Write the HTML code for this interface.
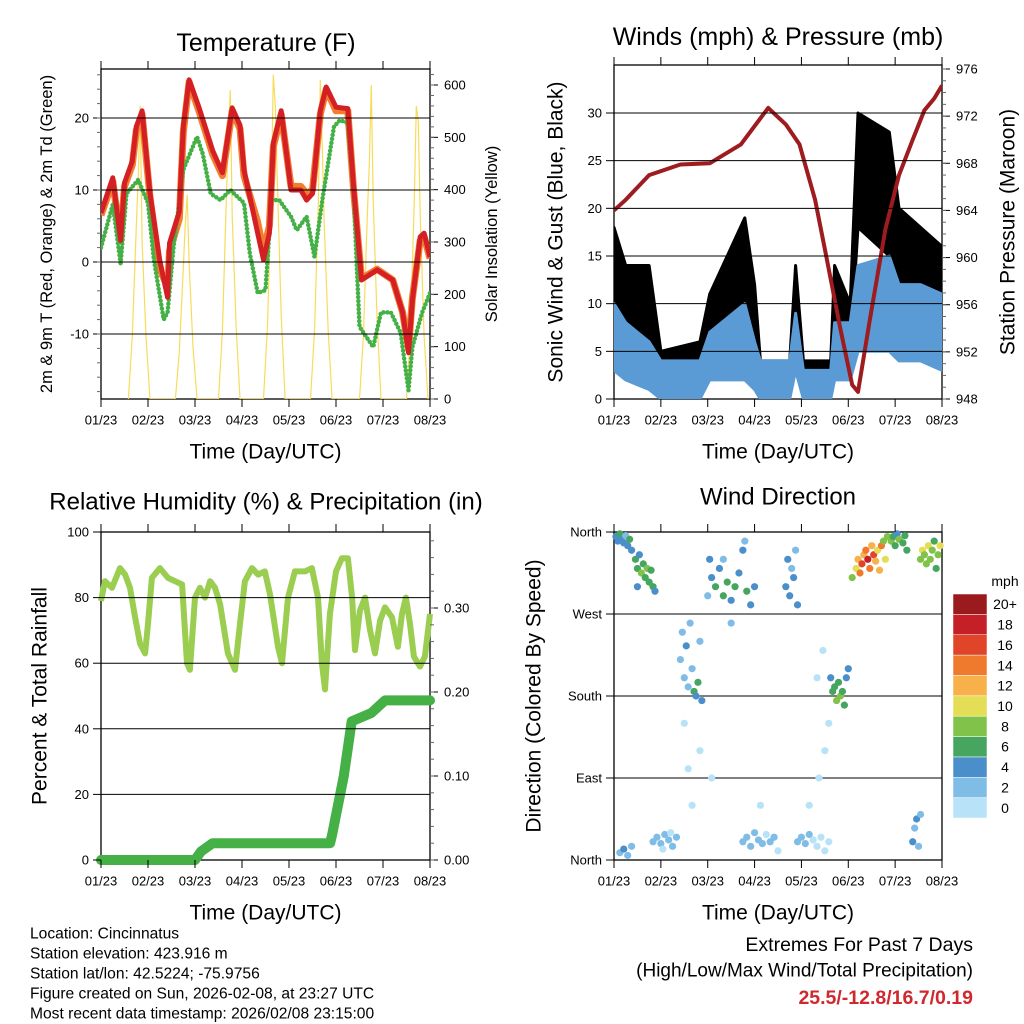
<!DOCTYPE html>
<html><head><meta charset="utf-8">
<style>
html,body{margin:0;padding:0;background:#fff;}
svg{display:block;font-family:"Liberation Sans",Arial,sans-serif;}
</style></head>
<body>
<svg id="chart" width="1024" height="1024" viewBox="0 0 1024 1024"></svg>
<script>
// ---------- data ----------
const tempHours=[0,6,10,12,16,18,21,25,30,34,35,40,42,45,50,57,62,67,71,73,80,83,86,88,92,97,102,105,108,112,115,120,126,129,133,141,149,154,157,159,163,165,168];
const tempValues=[6.8,11.7,3,11,14,18.8,21,9.5,0.2,-4.9,2.6,7,18.8,25.3,21.5,15.5,12.4,21.4,19,12.8,4,0.3,4,16.5,21,10,10,8.6,9.5,21,24.3,21.5,21.3,10.4,-2.5,-1.1,-2.5,-7,-12.6,-5.3,3.5,4,0.7];
const t9Values=[6.5,11.2,3,10.5,13.5,18.3,20.5,9,-1,-3.5,1.5,6,18,25,21,15,12,21,18.5,12,5.5,1.5,5,16,20.5,10.5,10.5,9.5,10,20.5,24,21,21,10,-2.3,-1,-2.5,-7,-12,-5,3,3.5,0.5];
const dewHours=[0,6,10,13,19,24,27,32,34,37,42,49,52,56,61,66,73,76,80,84,87,91,97,100,105,109,113,119,122,126,129,132,139,143,148,153,157,159,164,168];
const dewValues=[2,8,-0.2,9.5,11.4,8.2,0.3,-8,-7,2,12.8,17.4,15,9.5,8.6,10,8.2,1.2,-4.3,-3.9,8.6,8.6,6.3,4.4,6.3,0.7,8.6,18.8,19.7,19.3,9.5,-9,-11.8,-7,-7,-9.8,-17.8,-11.8,-7,-4.3];
const solarHours=[14,16,18,19,20,21,23,25, 38,40,42,43,44,45,47,49, 60,62,64,65,66,67,69,71, 83,85,87,88,89,90,92,94, 107,109,111,112,113,114,116,118, 132,134,136,137,138,139,141,143, 156,158,160,161,162,163,165,167];
const solarValues=[0,120,330,420,560,300,120,0, 0,90,250,330,390,260,100,0, 0,130,380,500,590,350,140,0, 0,140,400,620,560,420,160,0, 0,130,380,610,480,330,130,0, 0,120,350,450,600,380,150,0, 0,130,380,560,530,350,120,0];

const windHours=[0,6,18,24,44,49,67,72,75,90,93,97,111,113,121,125,141,146,157,168];
const windLow=[3,2,1,0,0,2,2,1,0,0,3,0,0,2,2,5,5,4,4,3];
const windHigh=[10,8,6,4,4,7,10,6,4,4,9,3,3,8,8,14,15,12,12,11];
const gustLow=[8,6,5,3,3,5,8,4,3,3,6,2,2,5,5,18,15,10,8,8];
const gustHigh=[18,14,14,5,6,11,19,12,4,4,14,4,4,14,10,30,28,20,18,16];
const presHours=[0,6,18,34,49,65,79,88,95,103,108,116,122,125,131,139,146,153,159,164,168];
const presValues=[964,964.9,967,967.9,968,969.6,972.7,971.3,969.6,964.9,960.7,953.9,949.2,948.6,954.7,962.4,967,970,972.5,973.5,974.6];

const rhHours=[0,2,5.6,9.7,12.3,14.8,17.4,19.9,22.5,24,26,30.1,34.2,37.8,41.4,43.9,45.4,48,50.5,53.1,55.7,58.2,60.8,64.8,68.4,71,73.5,77.1,80.2,83.7,86.3,90.4,92.4,95.5,99,104.2,107.7,110.8,112.8,114.4,116.9,120,123,126.1,128.2,129.7,132.2,134.8,137.4,139.9,142.5,145,148.6,151.6,153.7,155.7,157.8,159.8,162.9,165.4,168];
const rhValues=[79,85,83,89,87,83,74,66,63,72,86,89,86,85,84,60,58,80,83,80,85,83,78,63,58,72,85,89,87,88,81,65,60,80,88,88,89,80,60,52,75,88,92,92,80,64,76,80,70,63,73,77,74,65,75,80,72,62,59,62,75];
const precipHours=[0,48,51,57,117,118,124,128,133,138,145,168];
const precipValues=[0,0,0.01,0.02,0.02,0.03,0.10,0.165,0.17,0.175,0.19,0.19];

const dirHours=[1,2,3,4,5,6,7,8,9,3,5,7,9, 11,12,13,14,15,16,17,18,19,20,21,12, 20,22,24,26,28,30,32,25,29, 34,35,36,37,38,39,40,41,42,43,44,45,36,38,40,44, 48,49,50,52,54,56,58,60,62,64,66,67,68,70,72,56,60,50, 66,68,70,72,74,76,78,80,82,75,84, 88,89,90,91,92,93,94, 94,96,98,100,102,104,106,108,110,100,105,108,110,104,107, 111,112,113,114,115,116,117,118,119,120, 122,124,125,126,127,128,129,130,131,132,133,134,135,136,137,138,139,140, 142,143,144,145,146,148,149,150, 153,154,155,156,157,157,158,159,160,161,162,163,164,165,166,167];
const dirDegrees=[355,350,358,352,348,356,345,352,340,8,12,5,15, 330,320,335,315,325,310,320,305,318,300,295,300, 20,25,18,28,22,15,25,12,30, 220,250,200,235,190,260,210,185,180,195,240,175,150,100,60,120, 290,330,310,300,320,290,305,285,300,315,340,350,295,280,300,330,260,90, 20,25,15,30,22,18,28,20,25,60,10, 300,330,290,320,310,340,280, 20,25,18,28,22,15,25,10,20,60,90,120,150,200,230, 200,185,190,175,195,180,185,170,200,210, 310,320,330,315,325,335,340,330,320,345,335,328,340,318,345,350,330,355, 350,355,345,358,352,348,356,340, 20,35,45,15,50,330,340,335,325,345,330,340,350,320,335,345];
const dirSpeeds=[5,4,6,5,4,3,5,6,4,3,4,2,3, 6,7,5,8,6,7,8,6,7,6,5,4, 2,2,2,2,3,2,2,1,1, 2,3,2,4,3,2,3,6,5,6,3,4,1,1,1,1, 3,4,5,6,4,7,6,4,7,5,4,3,6,5,4,2,3,1, 2,2,2,2,2,2,1,2,2,1,1, 4,4,5,3,4,3,4, 2,2,2,2,1,1,1,0,1,0,1,0,1,1,0, 4,6,7,8,6,8,7,6,5,4, 8,10,12,14,16,12,14,18,15,12,16,13,10,12,14,9,11,8, 8,6,7,5,8,6,7,6, 4,3,4,3,2,8,10,9,8,10,9,8,7,6,9,10];
const speedColors=["#b8e2f8","#80bde6","#4a8fca","#46a660","#80c24a","#e3de55","#f7b04a","#ef7a2e","#e0452a","#c51f28","#9b1a1e"];
const speedLabels=["0","2","4","6","8","10","12","14","16","18","20+"];
const dayLabels=["01/23","02/23","03/23","04/23","05/23","06/23","07/23","08/23"];

// ---------- helpers ----------
const NS="http://www.w3.org/2000/svg";
const svg=document.getElementById("chart");
function mk(parent,tag,attrs){const e=document.createElementNS(NS,tag);for(const k in attrs)e.setAttribute(k,attrs[k]);parent.appendChild(e);return e;}
function txt(parent,x,y,s,size,anchor,extra){const e=mk(parent,"text",Object.assign({x:x,y:y,"font-size":size,"text-anchor":anchor||"middle","dominant-baseline":"central",fill:"#000"},extra||{}));e.textContent=s;return e;}
function lin(d0,d1,r0,r1){return v=>r0+(v-d0)*(r1-r0)/(d1-d0);}
function pathFrom(xs,ys,fx,fy){return xs.map((t,i)=>(i?"L":"M")+fx(t).toFixed(1)+","+fy(ys[i]).toFixed(1)).join("");}

const P1={x0:101,x1:430,y0:69,y1:399},P2={x0:614,x1:942,y0:65,y1:399},P3={x0:101,x1:430,y0:532,y1:860},P4={x0:614,x1:942,y0:532,y1:860};

function frame(P,name){
  const g=mk(svg,"g",{});
  
  
  const r=mk(g,"rect",{x:P.x0,y:P.y0,width:P.x1-P.x0,height:P.y1-P.y0,fill:"none",stroke:"#000","stroke-width":1.3});
  
  
  return g;
}
function xAxis(g,P,name){
  const fx=lin(0,7,P.x0,P.x1);
  for(let d=0;d<=7;d++){
    const x=fx(d);
    const t=mk(g,"line",{x1:x,x2:x,y1:P.y1,y2:P.y1+8,stroke:"#000","stroke-width":1});
    
    
    const t2=mk(g,"line",{x1:x,x2:x,y1:P.y0,y2:P.y0-8,stroke:"#000","stroke-width":1});
    
    
    const l=txt(g,x,P.y1+21,dayLabels[d],13);
    
    
  }
  const at=txt(g,(P.x0+P.x1)/2,P.y1+53,"Time (Day/UTC)",21);
  
  
}
function yTicks(g,P,fy,vals,labels,side,grid,name,minorVals){
  vals.forEach((v,i)=>{
    const y=fy(v);
    if(grid){const gl=mk(g,"line",{x1:P.x0,x2:P.x1,y1:y,y2:y,stroke:"#000","stroke-width":1});
      
      }
    const x=side==="left"?P.x0:P.x1;
    const tk=mk(g,"line",{x1:x,x2:side==="left"?x-8:x+8,y1:y,y2:y,stroke:"#000","stroke-width":1});
    
    
    const lb=txt(g,side==="left"?x-12:x+14,y,labels[i],13,side==="left"?"end":"start");
    
    
  });
  (minorVals||[]).forEach(v=>{
    const y=fy(v);const x=side==="left"?P.x0:P.x1;
    const tk=mk(g,"line",{x1:x,x2:side==="left"?x-4:x+4,y1:y,y2:y,stroke:"#666","stroke-width":1});
    
    
  });
}
function rotTitle(g,x,y,s,size,name){
  const t=txt(g,x,y,s,size,"middle",{transform:"rotate(-90 "+x+" "+y+")"});
  
  
}
function range(a,b,s){const r=[];for(let v=a;v<=b+1e-9;v+=s)r.push(+v.toFixed(4));return r;}

// ---------- Panel 1: temperature ----------
(function(){
  const P=P1;const g=frame(P,"temperature-panel");
  const fx=lin(0,168,P.x0,P.x1), fy=lin(-10,20,334,118), fs=lin(0,600,399,85);
  const clip=mk(svg,"clipPath",{id:"c1"});mk(clip,"rect",{x:P.x0,y:P.y0,width:P.x1-P.x0,height:P.y1-P.y0});
  const pg=mk(g,"g",{"clip-path":"url(#c1)"});
  yTicks(g,P,fy,[-10,0,10,20],["-10","0","10","20"],"left",true,"temp-y",range(-18,26,2));
  yTicks(g,P,fs,[0,100,200,300,400,500,600],["0","100","200","300","400","500","600"],"right",false,"solar-y",range(0,620,20));
  const s=mk(pg,"path",{d:pathFrom(solarHours,solarValues,fx,fs),fill:"none",stroke:"#f7dc5a","stroke-width":1.2});
  
  
  const o=mk(pg,"path",{d:pathFrom(tempHours,t9Values,fx,fy),fill:"none",stroke:"#f27d2d","stroke-width":7,"stroke-linejoin":"round"});
  
  
  const d=mk(pg,"path",{d:pathFrom(dewHours,dewValues,fx,fy),fill:"none",stroke:"#44b046","stroke-width":4.5,"stroke-linecap":"round","stroke-dasharray":"0 4"});
  
  
  const r=mk(pg,"path",{d:pathFrom(tempHours,tempValues,fx,fy),fill:"none",stroke:"#d42024","stroke-width":5,"stroke-linejoin":"round"});
  
  
  xAxis(g,P,"temperature");
  const t=txt(g,266,43,"Temperature (F)",25);
  
  
  rotTitle(g,47,234,"2m & 9m T (Red, Orange) & 2m Td (Green)",16.5,"temp-y-axis-title");
  rotTitle(g,492,234,"Solar Insolation (Yellow)",16.5,"solar-y-axis-title");
})();

// ---------- Panel 2: winds & pressure ----------
(function(){
  const P=P2;const g=frame(P,"winds-panel");
  const fx=lin(0,168,P.x0,P.x1), fy=lin(0,30,399,113), fp=lin(948,976,399,69);
  const clip=mk(svg,"clipPath",{id:"c2"});mk(clip,"rect",{x:P.x0,y:P.y0,width:P.x1-P.x0,height:P.y1-P.y0});
  const pg=mk(g,"g",{"clip-path":"url(#c2)"});
  yTicks(g,P,fy,[5,10,15,20,25,30],["5","10","15","20","25","30"],"left",true,"wind-y");
  yTicks(g,P,fy,[0],["0"],"left",false,"wind-y");
  yTicks(g,P,fp,[948,952,956,960,964,968,972,976],["948","952","956","960","964","968","972","976"],"right",false,"pressure-y",range(948,976,1));
  function band(lo,hi,color,name){
    const top=windHours.map((t,i)=>fx(t).toFixed(1)+","+fy(hi[i]).toFixed(1));
    const bot=windHours.map((t,i)=>fx(t).toFixed(1)+","+fy(lo[i]).toFixed(1)).reverse();
    const p=mk(pg,"polygon",{points:top.concat(bot).join(" "),fill:color,stroke:color,"stroke-width":3,"stroke-linejoin":"round"});
    
    
  }
  band(gustLow,gustHigh,"#000","gust-band");
  band(windLow,windHigh,"#5b9bd5","wind-speed-band");
  const pr=mk(pg,"path",{d:pathFrom(presHours,presValues,fx,fp),fill:"none",stroke:"#9e1b1f","stroke-width":4,"stroke-linejoin":"round"});
  
  
  xAxis(g,P,"winds");
  const t=txt(g,778,37,"Winds (mph) & Pressure (mb)",25);
  
  
  rotTitle(g,556,232,"Sonic Wind & Gust (Blue, Black)",21,"wind-y-axis-title");
  rotTitle(g,1008,232,"Station Pressure (Maroon)",21,"pressure-y-axis-title");
})();

// ---------- Panel 3: RH & precip ----------
(function(){
  const P=P3;const g=frame(P,"humidity-panel");
  const fx=lin(0,168,P.x0,P.x1), fy=lin(0,100,860,532), fr=lin(0,0.1,860,776);
  const clip=mk(svg,"clipPath",{id:"c3"});mk(clip,"rect",{x:P.x0-6,y:P.y0,width:P.x1-P.x0+12,height:P.y1-P.y0+6});
  const pg=mk(g,"g",{"clip-path":"url(#c3)"});
  yTicks(g,P,fy,[20,40,60,80],["20","40","60","80"],"left",true,"rh-y");
  yTicks(g,P,fy,[0,100],["0","100"],"left",false,"rh-y");
  yTicks(g,P,fr,[0,0.1,0.2,0.3],["0.00","0.10","0.20","0.30"],"right",false,"precip-y",range(0,0.38,0.02));
  const rh=mk(pg,"path",{d:pathFrom(rhHours,rhValues,fx,fy),fill:"none",stroke:"#9acd50","stroke-width":6,"stroke-linejoin":"round"});
  
  
  const pc=mk(pg,"path",{d:pathFrom(precipHours,precipValues,fx,fr),fill:"none",stroke:"#45b045","stroke-width":10,"stroke-linejoin":"round","stroke-linecap":"round"});
  
  
  xAxis(g,P,"humidity");
  const t=txt(g,266,502,"Relative Humidity (%) & Precipitation (in)",24);
  
  
  rotTitle(g,40,696,"Percent & Total Rainfall",21,"rh-y-axis-title");
})();

// ---------- Panel 4: wind direction ----------
(function(){
  const P=P4;const g=frame(P,"wind-direction-panel");
  const fx=lin(0,168,P.x0,P.x1), fy=lin(0,360,860,532);
  yTicks(g,P,fy,[90,180,270],["East","South","West"],"left",true,"dir-y");
  yTicks(g,P,fy,[0,360],["North","North"],"left",false,"dir-y");
  const pg=mk(g,"g",{});
  dirHours.forEach((h,i)=>{
    const bin=Math.min(10,Math.floor(dirSpeeds[i]/2));
    const c=mk(pg,"circle",{cx:fx(h),cy:fy(dirDegrees[i]),r:3.6,fill:speedColors[bin]});
    
    
  });
  xAxis(g,P,"direction");
  const t=txt(g,778,497,"Wind Direction",24);
  
  
  rotTitle(g,534,696,"Direction (Colored By Speed)",21,"direction-y-axis-title");
  const cb=mk(svg,"g",{});
  
  
  const bh=224/11;
  speedColors.forEach((col,i)=>{
    const y=818-(i+1)*bh;
    const r=mk(cb,"rect",{x:953,y:y,width:34,height:bh,fill:col,stroke:"#fff","stroke-width":0.5});
    
    
    const l=txt(cb,1005,y+bh/2,speedLabels[i],14);
    
    
  });
  const u=txt(cb,1005,581,"mph",14);
  
  
})();

// ---------- footer ----------
(function(){
  const f=mk(svg,"g",{});
  
  
  ["Location: Cincinnatus","Station elevation: 423.916 m","Station lat/lon: 42.5224; -75.9756","Figure created on Sun, 2026-02-08, at 23:27 UTC","Most recent data timestamp: 2026/02/08 23:15:00"].forEach((s,i)=>{
    const t=txt(f,30,934+i*20,s,15.6,"start");
    
    
  });
  const e=mk(svg,"g",{});
  
  
  const a=txt(e,973,945,"Extremes For Past 7 Days",19.5,"end");
  
  
  const b=txt(e,973,971,"(High/Low/Max Wind/Total Precipitation)",19,"end");
  
  
  const c=txt(e,973,998,"25.5/-12.8/16.7/0.19",19.5,"end",{fill:"#d0282e","font-weight":"bold"});
  
  
})();
</script>
</body></html>
